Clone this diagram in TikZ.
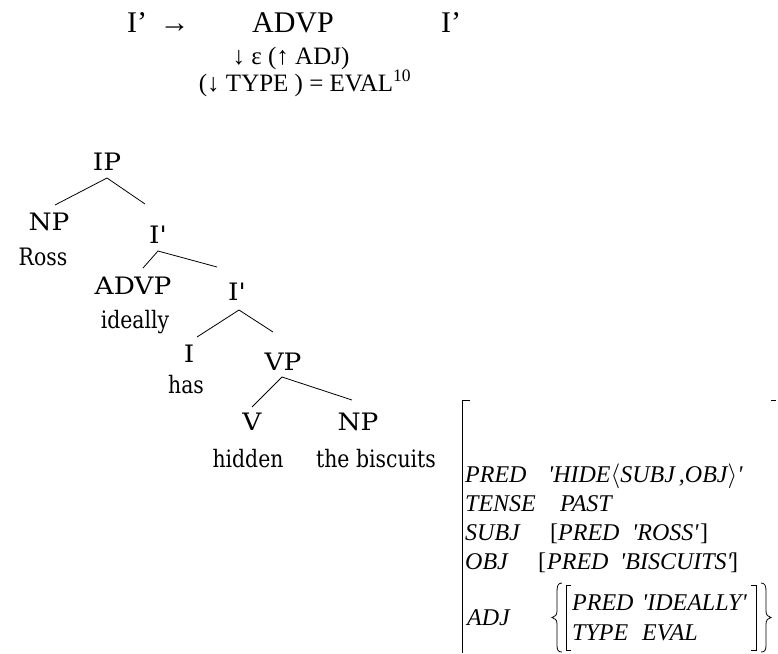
\documentclass[tikz,border=0pt]{standalone}
\usepackage{fontspec}
\setmainfont{Liberation Serif}
\newfontfamily\treecaps[FakeStretch=1.1,Ligatures=TeXOff]{DejaVu Serif}
\newfontfamily\treefont[FakeStretch=0.85,Ligatures=TeXOff]{DejaVu Serif}
\newfontfamily\fsfont[Ligatures=TeXOff]{Liberation Serif}
\begin{document}
\begin{tikzpicture}[x=1pt,y=-1pt]
\useasboundingbox (0,0) rectangle (778,653);
\tikzset{
  trc/.style={font=\treecaps\fontsize{24}{24}\selectfont, inner sep=0pt, anchor=base},
  tr/.style={font=\treefont\fontsize{24}{24}\selectfont, inner sep=0pt, anchor=base},
  fs/.style={font=\fsfont\itshape\fontsize{24}{24}\selectfont, inner sep=0pt, anchor=base west},
  fsb/.style={font=\fsfont\fontsize{24}{24}\selectfont, inner sep=0pt, anchor=base west},
  top/.style={inner sep=0pt, anchor=base},
  branch/.style={line width=0.8pt},
  brk/.style={line width=0.8pt},
}
% ---- rule at top ----
\node[top, anchor=base west, font=\fontsize{30}{30}\selectfont] (lhs) at (127,32) {I’ \,→};
\node[top, font=\fontsize{30}{30}\selectfont] (advptop) at (293,32) {ADVP};
\node[top, font=\fontsize{30}{30}\selectfont] (ibtop) at (451,32) {I’};
\node[top, font=\fontsize{25}{25}\selectfont] (ann1) at (291,64) {↓ ε (↑ ADJ)};
\node[top, font=\fontsize{25}{25}\selectfont] (ann2) at (305,91) {(↓ TYPE ) = EVAL\textsuperscript{10}};
% ---- tree ----
\node[trc] (ip) at (107,170) {IP};
\node[trc] (np1) at (49,230) {NP};
\node[tr] (ross) at (43,265) {Ross};
\node[trc] (ib1) at (158,243) {I'};
\node[trc] (advp) at (133,294) {ADVP};
\node[tr] (ideally) at (135,328) {ideally};
\node[trc] (ib2) at (237,300) {I'};
\node[trc] (i) at (189,362) {I};
\node[tr] (has) at (186,393) {has};
\node[trc] (vp) at (283,370) {VP};
\node[trc] (v) at (252,430) {V};
\node[tr] (hidden) at (248,467) {hidden};
\node[trc] (np2) at (358,430) {NP};
\node[tr] (bisc) at (376,467) {the biscuits};
% branch points
\coordinate (ipa) at (107,178); \coordinate (ipl) at (55,205); \coordinate (ipr) at (145,204);
\coordinate (ib1a) at (158,251); \coordinate (ib1l) at (143,268); \coordinate (ib1r) at (217,267);
\coordinate (ib2a) at (239,310); \coordinate (ib2l) at (197,337); \coordinate (ib2r) at (273,332);
\coordinate (vpa) at (282,377); \coordinate (vpl) at (252,407); \coordinate (vpr) at (352,400);
\draw[branch] (ipl) -- (ipa) -- (ipr);
\draw[branch] (ib1l) -- (ib1a) -- (ib1r);
\draw[branch] (ib2l) -- (ib2a) -- (ib2r);
\draw[branch] (vpl) -- (vpa) -- (vpr);
% ---- f-structure ----
\coordinate (ob1) at (470,400); \coordinate (ob2) at (462,400); \coordinate (ob3) at (462,653);
\draw[brk] (ob1) -- (ob2) -- (ob3);
\coordinate (ot1) at (771,400); \coordinate (ot2) at (776,400);
\draw[brk] (ot1) -- (ot2);
\node[fs] (pred) at (465,482) {PRED};
\node[fs] (predv) at (548,482) {'HIDE$\langle$SUBJ\,,OBJ$\rangle$'};
\node[fs] (tense) at (465,511) {TENSE};
\node[fs] (past) at (560,511) {PAST};
\node[fs] (subj) at (465,540) {SUBJ};
\node[fsb] (sb1) at (550,540) {[};
\node[fs] (spred) at (558,540) {PRED};
\node[fs] (sross) at (632,540) {'ROSS'};
\node[fsb] (sb2) at (700,540) {]};
\node[fs] (obj) at (465,569) {OBJ};
\node[fsb] (ob1b) at (538,569) {[};
\node[fs] (opred) at (547,569) {PRED};
\node[fs] (obisc) at (620,569) {'BISCUITS'};
\node[fsb] (ob2b) at (730,569) {]};
\node[fs] (adj) at (467,625) {ADJ};
\node[fs] (apred) at (572,610) {PRED};
\node[fs] (aideal) at (642,610) {'IDEALLY'};
\node[fs] (atype) at (572,640) {TYPE};
\node[fs] (aeval) at (642,640) {EVAL};
% inner square brackets
\coordinate (lb1) at (571,585); \coordinate (lb2) at (566,585); \coordinate (lb3) at (566,650); \coordinate (lb4) at (571,650);
\draw[brk] (lb1) -- (lb2) -- (lb3) -- (lb4);
\coordinate (rb1) at (751,585); \coordinate (rb2) at (756,585); \coordinate (rb3) at (756,650); \coordinate (rb4) at (751,650);
\draw[brk] (rb1) -- (rb2) -- (rb3) -- (rb4);
% braces
\draw[brk] (562,583) .. controls (558,583) and (557,586) .. (557,591) -- (557,611)
  .. controls (557,615) and (555,617) .. (552,617.5)
  .. controls (555,618) and (557,620) .. (557,624) -- (557,645)
  .. controls (557,650) and (558,652) .. (562,652);
\draw[brk] (761,583) .. controls (765,583) and (766,586) .. (766,591) -- (766,611)
  .. controls (766,615) and (768,617) .. (771,617.5)
  .. controls (768,618) and (766,620) .. (766,624) -- (766,645)
  .. controls (766,650) and (765,652) .. (761,652);
\end{tikzpicture}
\end{document}
